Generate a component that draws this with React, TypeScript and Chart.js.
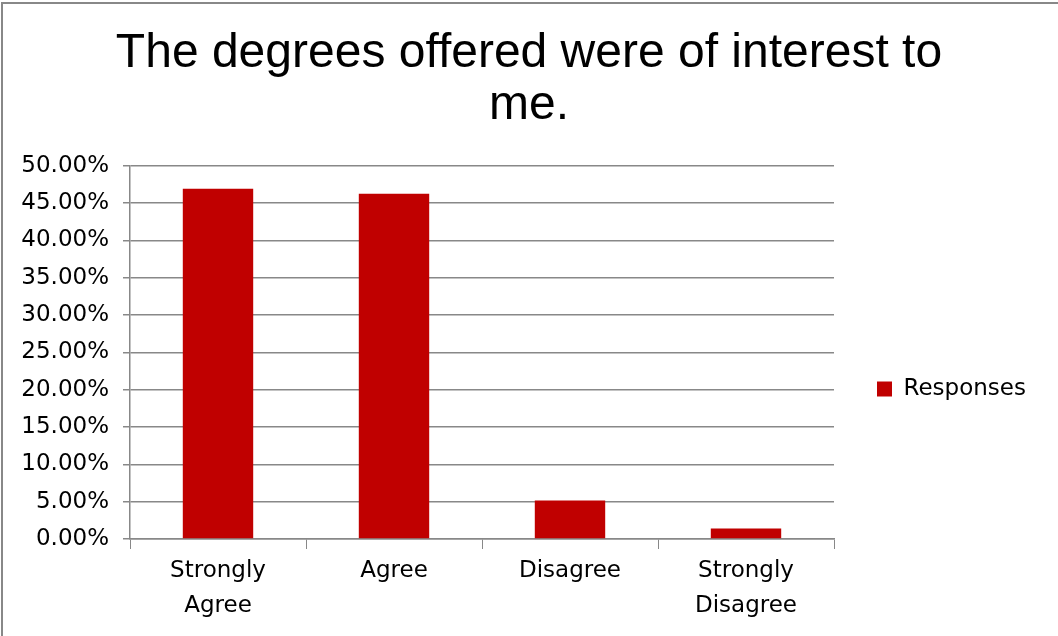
import React, { useEffect, useRef } from "react";
import { Chart, registerables } from "chart.js";

Chart.register(...registerables);

const titleLines = ["The degrees offered were of interest to", "me."];
const categories = [["Strongly", "Agree"], "Agree", "Disagree", ["Strongly", "Disagree"]];
const seriesName = "Responses";
const responses = [46.92, 46.25, 5.14, 1.41];
const yMin = 0;
const yMax = 50;
const yStep = 5;

const FONT = "'DejaVu Sans', sans-serif";

const legendPlacePlugin = {
  id: "legendPlace",
  beforeLayout(chart: any) {
    const lg = chart.legend;
    if (lg && !lg.__patched) {
      const orig = lg.fit;
      lg.fit = function () {
        orig.call(this);
        this.width = 224;
      };
      lg.__patched = true;
    }
  },
  afterLayout(chart: any) {
    const lg = chart.legend;
    if (lg) {
      lg.top += 75;
      lg.bottom += 75;
    }
  },
};

export default function App() {
  const ref = useRef<HTMLCanvasElement | null>(null);

  useEffect(() => {
    document.body.style.margin = "0";
    if (!ref.current) return;
    const chart = new Chart(ref.current, {
      type: "bar",
      data: {
        labels: categories as any,
        datasets: [
          {
            label: seriesName,
            data: responses,
            backgroundColor: "#C00000",
            borderWidth: 0,
            categoryPercentage: 1,
            barPercentage: 0.4,
          },
        ],
      },
      plugins: [legendPlacePlugin],
      options: {
        animation: false,
        responsive: true,
        maintainAspectRatio: false,
        layout: { padding: { left: 0, right: 0, top: 0, bottom: 8 } },
        plugins: {
          title: {
            display: true,
            text: titleLines,
            color: "#000",
            font: { family: "'Liberation Sans', Arial, sans-serif", size: 48, weight: "normal", lineHeight: 1.08 },
            padding: { top: 28, bottom: 34 },
          },
          legend: {
            position: "right",
            labels: {
              boxWidth: 15,
              boxHeight: 15,
              color: "#000",
              font: { family: FONT, size: 23 },
              padding: 43,
            },
          },
          tooltip: { enabled: false },
        },
        scales: {
          x: {
            grid: {
              display: true,
              drawOnChartArea: false,
              drawTicks: true,
              tickLength: 10,
              offset: true,
              color: "#888",
            },
            border: { display: true, color: "#888", width: 1.5 },
            ticks: {
              color: "#000",
              font: { family: FONT, size: 23, lineHeight: 1.5 },
              padding: 5,
              maxRotation: 0,
            },
          },
          y: {
            min: yMin,
            max: yMax,
            afterFit: (scale: any) => {
              scale.width = 130;
            },
            grid: { color: "#888", lineWidth: 1.5, tickLength: 7 },
            border: { display: true, color: "#888", width: 1.5 },
            ticks: {
              stepSize: yStep,
              color: "#000",
              font: { family: FONT, size: 23 },
              padding: 14,
              callback: (v: any) => Number(v).toFixed(2) + "%",
            },
          },
        },
      },
    });
    return () => chart.destroy();
  }, []);

  return (
    <div style={{ position: "fixed", left: 0, top: 0, width: 1058, height: 636, background: "#fff" }}>
      <canvas ref={ref} />
      <div
        style={{
          position: "absolute",
          left: 1,
          top: 2,
          width: 1070,
          height: 650,
          borderTop: "2px solid #888",
          borderLeft: "2px solid #888",
          pointerEvents: "none",
        }}
      />
    </div>
  );
}
